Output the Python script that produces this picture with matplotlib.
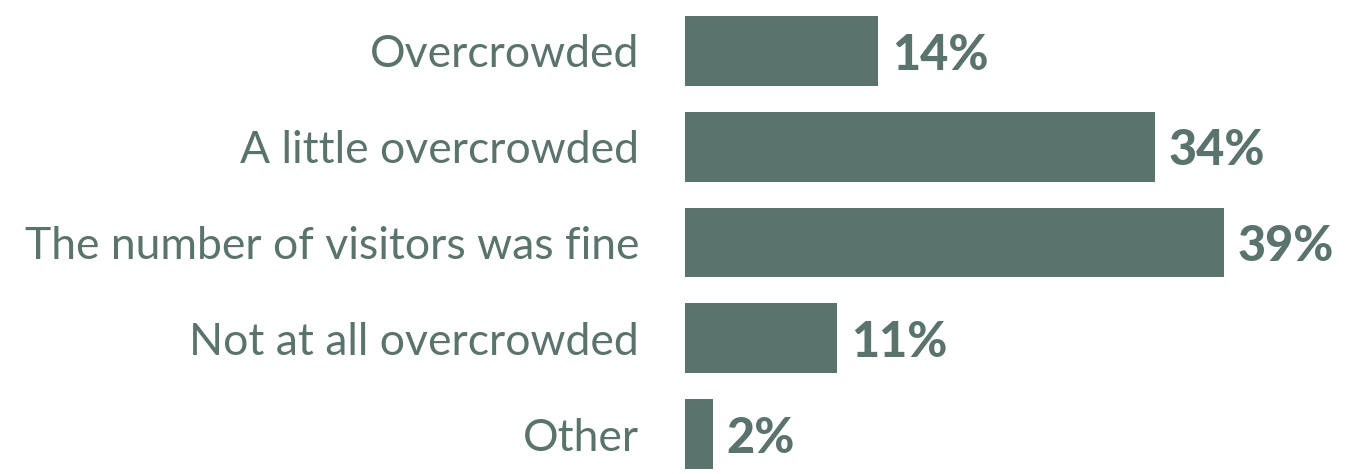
import matplotlib
matplotlib.use("Agg")
import matplotlib.pyplot as plt

# survey answers and shares (%)
categories = ["Overcrowded", "A little overcrowded", "The number of visitors was fine",
              "Not at all overcrowded", "Other"]
values = [14, 34, 39, 11, 2]
value_labels = ["14%", "34%", "39%", "11%", "2%"]

bar_color = "#5a746d"

fig = plt.figure(figsize=(13.67, 4.74), dpi=100)
ax = fig.add_axes([685 / 1367, 0, 682 / 1367, 1])

for s in ["top", "right", "bottom", "left"]:
    ax.spines[s].set_visible(False)
ax.axvline(-0.15, color="#d9d9d9", lw=1.5, ymin=0, ymax=0.99)

ypos = list(range(len(categories)))
ax.barh(ypos, values, height=0.73, color=bar_color, left=0)

ax.set_xlim(0, 682 / 13.82)
ax.set_ylim(4 + 40 / 96, -51 / 96)

# value labels to the right of each bar
for y, v, lab in zip(ypos, values, value_labels):
    ax.annotate(lab, (v, y), xytext=(10, -3), textcoords="offset points",
                va="center", ha="left", fontsize=35, fontweight="black",
                color=bar_color, family="Lato")

ax.set_yticks(ypos)
ax.set_yticklabels(categories, fontsize=32, color=bar_color, family="Lato")
ax.tick_params(axis="y", length=0, pad=33)
ax.set_xticks([])

fig.savefig("out.png", dpi=100)
